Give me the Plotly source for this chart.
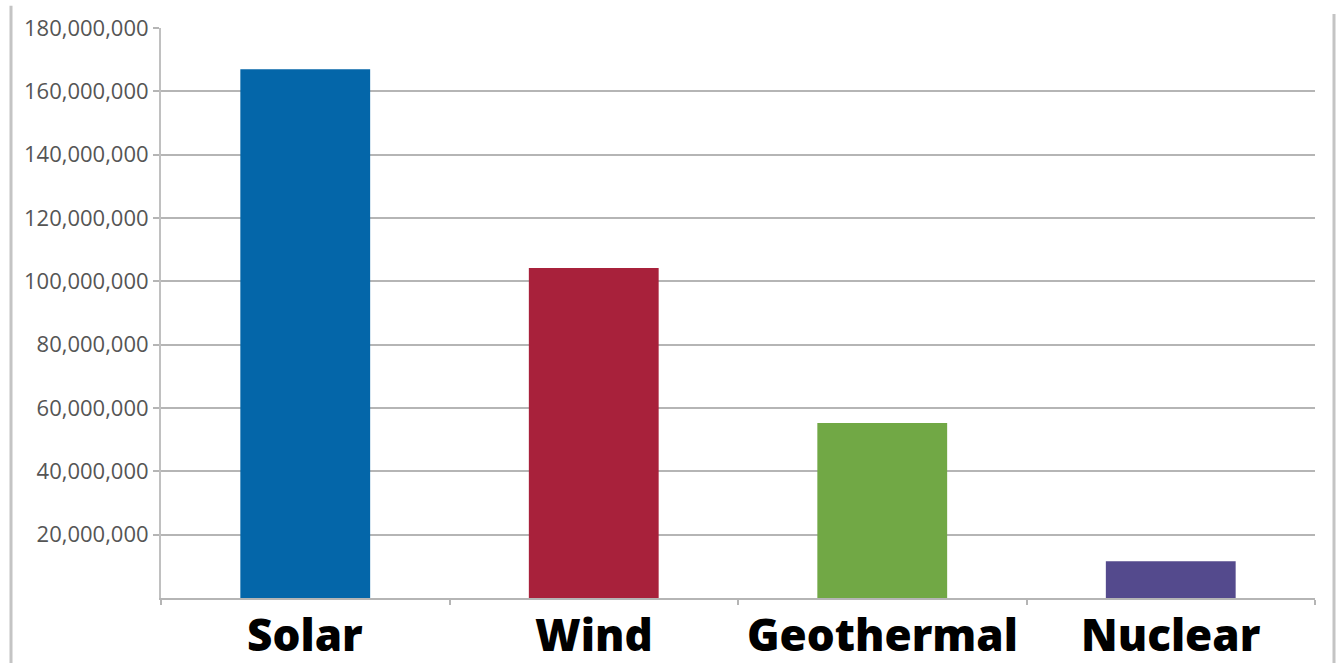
import plotly.graph_objects as go

categories = ["Solar", "Wind", "Geothermal", "Nuclear"]
values = [167_000_000, 104_200_000, 55_300_000, 11_600_000]
colors = ["#0466a9", "#a8213b", "#71a845", "#544a8d"]
tick_vals = [20_000_000 * i for i in range(1, 10)]
tick_text = [f"{v:,}" for v in tick_vals]

W, H = 1343, 663
ML, MR, MT, MB = 161, 28, 28, 65
PLOT_H = H - MT - MB
PLOT_W = W - ML - MR
fig = go.Figure(go.Bar(x=categories, y=values, marker=dict(color=colors, line=dict(width=0)),
                       width=0.45))

fig.update_layout(
    width=W, height=H,
    margin=dict(l=ML, r=MR, t=MT, b=MB, autoexpand=False),
    paper_bgcolor="white", plot_bgcolor="white",
    showlegend=False,
    font=dict(family="Open Sans", color="#555555"),
    bargap=0.55,
)
fig.update_yaxes(
    range=[0, 180_000_000], tickvals=tick_vals, ticktext=tick_text,
    showgrid=True, gridcolor="#b5b5b5", gridwidth=2,
    ticks="outside", ticklen=6, tickcolor="#b5b5b5", tickwidth=2,
    showline=True, linecolor="#c0c0c0", linewidth=2,
    tickfont=dict(size=22, color="#555555", family="Open Sans"),
    zeroline=False, automargin=False,
)
fig.update_xaxes(
    showline=True, linecolor="#b5b5b5", linewidth=2,
    ticks="outside", tickson="boundaries", ticklen=5, tickcolor="#b5b5b5", tickwidth=2,
    showticklabels=False, automargin=False,
)
# category labels, placed just under the axis
for c in categories:
    fig.add_annotation(x=c, xref="x", y=-36 / PLOT_H, yref="paper", yanchor="middle",
                       text=c, showarrow=False,
                       font=dict(size=44, color="black", family="Open Sans", weight=800))
# outer frame lines of the picture
fig.add_shape(type="line", xref="paper", yref="paper", x0=(11 - ML) / PLOT_W, x1=(11 - ML) / PLOT_W,
              y0=-MB / PLOT_H, y1=(PLOT_H + MT) / PLOT_H - 0.01, line=dict(color="#c4c4c4", width=3))
fig.add_shape(type="line", xref="paper", yref="paper", x0=(1334 - ML) / PLOT_W, x1=(1334 - ML) / PLOT_W,
              y0=-MB / PLOT_H, y1=(PLOT_H + 14) / PLOT_H, line=dict(color="#c4c4c4", width=3))

fig.write_html("out.html")
